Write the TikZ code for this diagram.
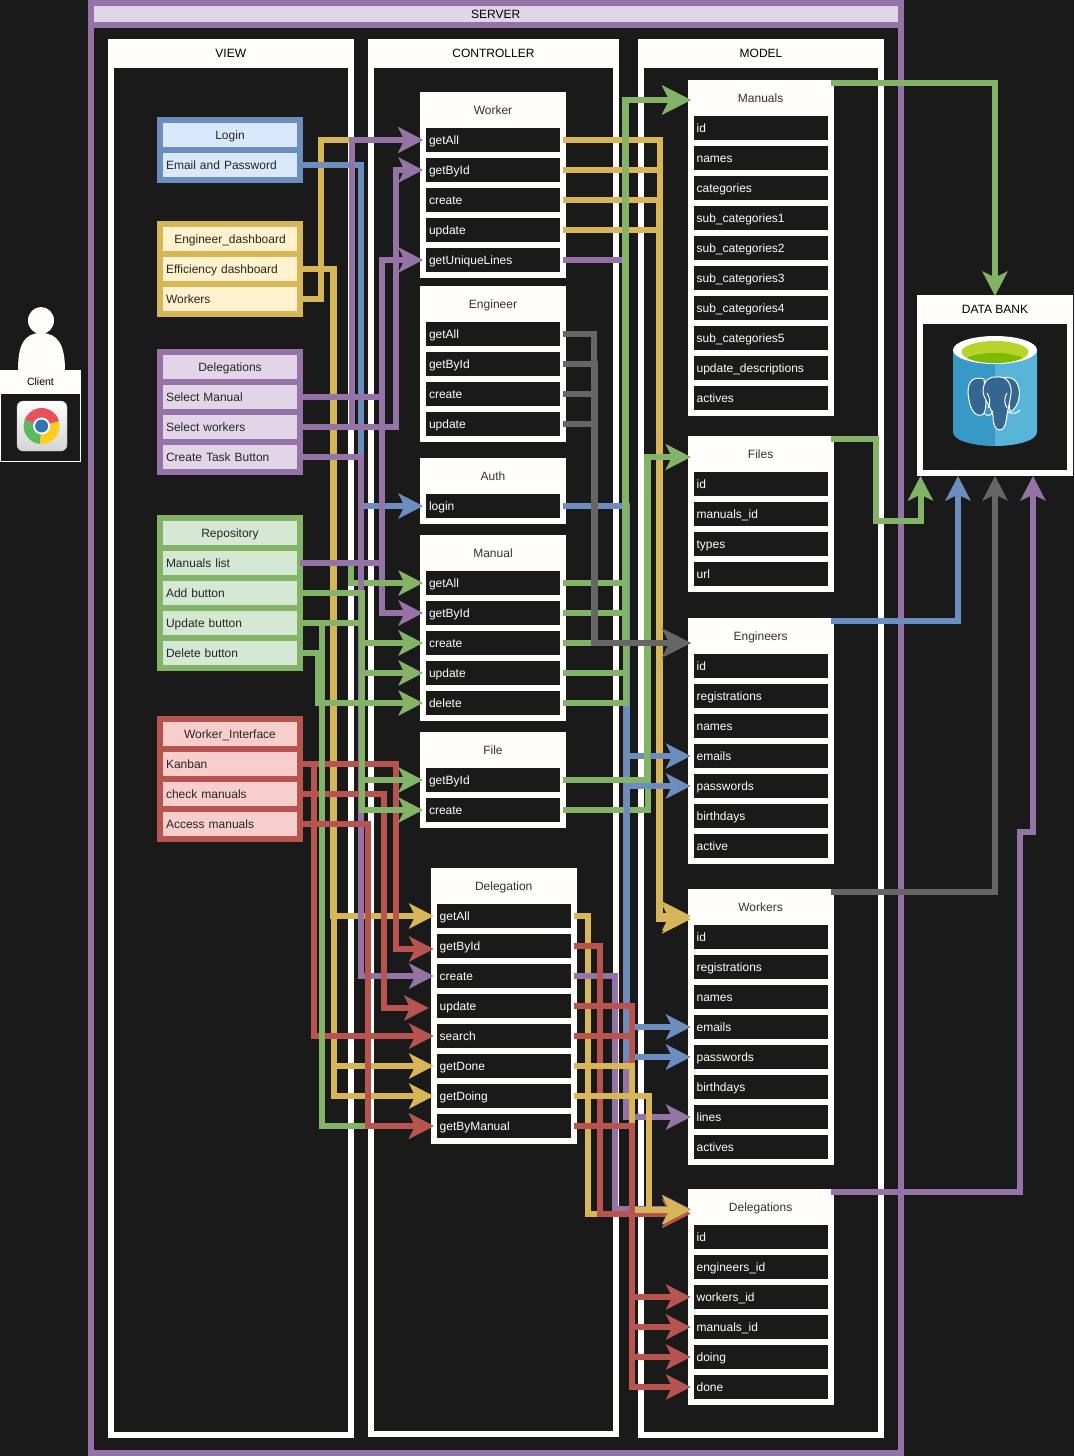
\documentclass[tikz,border=0pt]{standalone}
\usepackage{fontspec}
\setmainfont{Liberation Sans}
\usetikzlibrary{arrows.meta}
\definecolor{bgdark}{HTML}{1A1A1A}
\definecolor{paper}{HTML}{FFFEFA}
\definecolor{purpleline}{HTML}{9673A6}
\definecolor{purplefill}{HTML}{E1D5E7}
\definecolor{blueline}{HTML}{6C8EBF}
\definecolor{bluefill}{HTML}{DAE8FC}
\definecolor{goldline}{HTML}{D6B656}
\definecolor{goldfill}{HTML}{FFF2CC}
\definecolor{greenline}{HTML}{82B366}
\definecolor{greenfill}{HTML}{D5E8D4}
\definecolor{redline}{HTML}{B85450}
\definecolor{redfill}{HTML}{F8CECC}
\definecolor{greyline}{HTML}{666666}
\definecolor{dbleft}{HTML}{3999C6}
\definecolor{dbright}{HTML}{59B4D9}
\definecolor{dbtop}{HTML}{B7D42A}
\definecolor{dbdeep}{HTML}{7FBA00}
\definecolor{elephant}{HTML}{336791}
\definecolor{chromered}{HTML}{E8505B}
\definecolor{chromegreen}{HTML}{5CB85C}
\definecolor{chromeyellow}{HTML}{FFCD1C}
\definecolor{chromeblue}{HTML}{2F75B5}
\tikzset{
	cell/.style = {line width = 6pt, outer sep = 0pt, inner ysep = 0pt, minimum width = 140pt, minimum height = 30pt,
		font = \fontsize{12}{14}\selectfont, text height = 10.5pt, text depth = 2.5pt},
	headcell/.style = {cell, align = center},
	rowcell/.style = {cell, inner xsep = 6pt, text width = 128pt, align = left},
	paperset/.style = {draw = paper, fill = paper, text = black!80},
	darkset/.style = {draw = paper, fill = bgdark, text = paper},
	blueset/.style = {draw = blueline, fill = bluefill, text = black!85},
	goldset/.style = {draw = goldline, fill = goldfill, text = black!85},
	purpleset/.style = {draw = purpleline, fill = purplefill, text = black!85},
	greenset/.style = {draw = greenline, fill = greenfill, text = black!85},
	redset/.style = {draw = redline, fill = redfill, text = black!85},
	lanehead/.style = {cell, draw = paper, fill = paper, text = black},
	lanebody/.style = {line width = 6pt, outer sep = 0pt, draw = paper, fill = bgdark},
	wire/.style = {line width = 6pt, draw = #1, -{Stealth[length = 24.5pt, width = 25pt, inset = 6pt]}},
	widewire/.style = {line width = 6pt, draw = #1, -{Stealth[length = 28pt, width = 28pt, inset = 7pt]}}
}
% title cell, then one 30 high cell per row: [title colours], prefix, title, centre x, first row y, colours, rows
\newcommand{\cellstack}[7][]{
	\node[headcell, #6, #1] (#2) at (#4,#5-30) {#3};
	\foreach \lbl [count = \i] in {#7} {
		\node[rowcell, #6] (#2\i) at (#4,#5-30+\i*30) {\lbl};
	}
}
\begin{document}
\begin{tikzpicture}[x = 1pt, y = -1pt]
	\useasboundingbox[fill = bgdark] (0,0) rectangle (1074,1456);

	% server and the three lanes
	\node[lanebody, draw = purpleline, minimum width = 810.5pt, minimum height = 1428pt] (serverBody) at (495.75,739) {};
	\node[cell, draw = purpleline, fill = purplefill, text = black, minimum width = 810.5pt, minimum height = 22pt] (serverHead) at (495.75,14) {SERVER};
	\node[lanebody, minimum width = 240.5pt, minimum height = 1370pt] (viewBody) at (230.75,749.5) {};
	\node[lanehead, minimum width = 240.5pt, minimum height = 22.5pt] (viewHead) at (230.75,53.25) {VIEW};
	\node[lanebody, minimum width = 245pt, minimum height = 1369.5pt] (ctrlBody) at (493.5,749.25) {};
	\node[lanehead, minimum width = 245pt, minimum height = 22.5pt] (ctrlHead) at (493.5,53.25) {CONTROLLER};
	\node[lanebody, minimum width = 240pt, minimum height = 1370.5pt] (modelBody) at (761,749.75) {};
	\node[lanehead, minimum width = 240pt, minimum height = 22.5pt] (modelHead) at (761,53.25) {MODEL};

	% client
	\fill[paper] (41,320.5) ellipse (13 and 13.5);
	\fill[paper] (18,370) .. controls (18,345) and (24,333) .. (41,333) .. controls (58,333) and (65,345) .. (65,370) -- cycle;
	\node[draw = paper, line width = 1pt, fill = bgdark, outer sep = 0pt, minimum width = 79.5pt, minimum height = 68pt] (clientBody) at (40.25,427) {};
	\node[fill = paper, text = black, outer sep = 0pt, minimum width = 81pt, minimum height = 23pt, font = \fontsize{10.5}{12}\selectfont] (clientHead) at (40.5,381.5) {Client};
	\draw[rounded corners = 6pt, draw = black!25, top color = white, bottom color = black!17] (17,401) rectangle (67,451);
	\fill[chromered] (41.6,426) -- ++(-15:18) arc[start angle = -15, end angle = -160, radius = 18] -- cycle;
	\fill[chromegreen] (41.6,426) -- ++(-160:18) arc[start angle = -160, end angle = -265, radius = 18] -- cycle;
	\fill[chromeyellow] (41.6,426) -- ++(95:18) arc[start angle = 95, end angle = -15, radius = 18] -- cycle;
	\fill[white] (41.6,426) circle (8.5);
	\fill[chromeblue] (41.6,426) circle (6.5);

	% data bank
	\node[lanebody, minimum width = 150pt, minimum height = 152pt] (bankBody) at (995,397) {};
	\node[lanehead, minimum width = 150pt, minimum height = 23pt] (bankHead) at (995,309.5) {DATA BANK};
	\fill[dbleft] (953,350) -- (953,432) .. controls (953,441) and (975,446) .. (995,446) -- (995,350) -- cycle;
	\fill[dbright] (1037,350) -- (1037,432) .. controls (1037,441) and (1015,446) .. (995,446) -- (995,350) -- cycle;
	\fill[white] (995,350) ellipse (42 and 14);
	\fill[dbtop] (995,352) ellipse (33.5 and 11);
	\begin{scope}
		\clip (995,352) ellipse (33.5 and 11);
		\fill[dbdeep] (995,361) ellipse (30 and 8);
	\end{scope}
	\begin{scope}[draw = white, line width = 1pt, fill = elephant]
		\filldraw (984,379) .. controls (970,375) and (966,385) .. (969,400) .. controls (971,412) and (977,417) .. (982,415) .. controls (985,414) and (986,408) .. (986,400) -- cycle;
		\filldraw (1003,378) .. controls (1015,375) and (1021,385) .. (1019,398) .. controls (1018,405) and (1014,410) .. (1010,412) -- (1008,390) -- cycle;
		\filldraw (983,392) .. controls (983,380) and (990,376) .. (997,377) .. controls (1005,376) and (1012,382) .. (1011,393) .. controls (1010,402) and (1008,408) .. (1007,415) .. controls (1006,424) and (1004,430) .. (1000,430) .. controls (995,430) and (993,424) .. (993,416) .. controls (992,408) and (985,402) .. (983,392) -- cycle;
		\draw (984,413) .. controls (987,417) and (991,416) .. (993,411);
		\draw (1008,412) .. controls (1012,414) and (1017,414) .. (1020,410);
		\draw (987,393) .. controls (990,398) and (991,403) .. (988,408);
		\draw (1007,393) .. controls (1004,398) and (1004,403) .. (1007,408);
	\end{scope}

	% view tables
	\cellstack{login}{Login}{230}{165}{blueset}{Email and Password}
	\cellstack{dash}{Engineer\_dashboard}{230}{269}{goldset}{Efficiency dashboard, Workers}
	\cellstack{deleg}{Delegations}{230}{397}{purpleset}{Select Manual, Select workers, Create Task Button}
	\cellstack{repo}{Repository}{230}{563}{greenset}{Manuals list, Add button, Update button, Delete button}
	\cellstack{iface}{Worker\_Interface}{230}{764}{redset}{Kanban, check manuals, Access manuals}

	% controller tables
	\cellstack[paperset]{cWorker}{Worker}{493}{140}{darkset}{getAll, getById, create, update, getUniqueLines}
	\cellstack[paperset]{cEngineer}{Engineer}{493}{334}{darkset}{getAll, getById, create, update}
	\cellstack[paperset]{cAuth}{Auth}{493}{506}{darkset}{login}
	\cellstack[paperset]{cManual}{Manual}{493}{583}{darkset}{getAll, getById, create, update, delete}
	\cellstack[paperset]{cFile}{File}{493}{780}{darkset}{getById, create}
	\cellstack[paperset]{cDeleg}{Delegation}{503.7}{916}{darkset}{getAll, getById, create, update, search, getDone, getDoing, getByManual}

	% model tables
	\cellstack[paperset]{mManuals}{Manuals}{760.6}{128}{darkset}{id, names, categories, sub\_categories1, sub\_categories2, sub\_categories3, sub\_categories4, sub\_categories5, update\_descriptions, actives}
	\cellstack[paperset]{mFiles}{Files}{760.6}{484}{darkset}{id, manuals\_id, types, url}
	\cellstack[paperset]{mEngineers}{Engineers}{760.6}{666}{darkset}{id, registrations, names, emails, passwords, birthdays, active}
	\cellstack[paperset]{mWorkers}{Workers}{760.6}{937}{darkset}{id, registrations, names, emails, passwords, birthdays, lines, actives}
	\cellstack[paperset]{mDeleg}{Delegations}{760.6}{1237}{darkset}{id, engineers\_id, workers\_id, manuals\_id, doing, done}

	% view to controller
	\draw[wire = goldline] (dash2.east) -- ++(20.5,0) |- (cWorker1.west);
	\draw[wire = goldline] (dash1.east) -- ++(33,0) |- (cDeleg1.west);
	\draw[wire = goldline] (dash1.east) -- ++(34,0) |- (cDeleg6.west);
	\draw[wire = goldline] (dash1.east) -- ++(34,0) |- (cDeleg7.west);
	\draw[wire = blueline] (login1.east) -- ++(61,0) |- (cAuth1.west);
	\draw[wire = purpleline] (deleg1.east) -- ++(82,0) |- (cManual2.west);
	\draw[wire = greenline] (repo1.east) -- ++(51,0) |- (cManual1.west);
	\draw[wire = purpleline] (repo1.east) -- ++(82,0) |- (cWorker5.west);
	\draw[wire = purpleline] (deleg2.east) -- ++(52,0) |- (cWorker1.west);
	\draw[wire = purpleline] (deleg2.east) -- ++(96,0) |- (cWorker2.west);
	\draw[wire = purpleline] (deleg3.east) -- ++(61,0) |- (cDeleg3.west);
	\draw[wire = redline] (iface1.east) -- ++(96,0) |- ([yshift = -3pt]cDeleg2.west);
	\draw[wire = redline] (iface2.east) -- ++(83.5,0) |- ([xshift = -5pt, yshift = -2pt]cDeleg4.west);
	\draw[wire = redline] (iface1.east) -- ++(13.5,0) |- (cDeleg5.west);
	\draw[wire = greenline] (repo3.east) -- ++(21.5,0) |- (cDeleg8.west);
	\draw[wire = redline] (iface3.east) -- ++(67.5,0) |- (cDeleg8.west);
	\draw[wire = greenline] (repo2.east) -- ++(61.5,0) |- (cManual3.west);
	\draw[wire = greenline] (repo3.east) -- ++(61.5,0) |- (cManual4.west);
	\draw[wire = greenline] (repo4.east) -- ++(18,0) |- (cManual5.west);
	\draw[wire = greenline] (repo2.east) -- ++(61.5,0) |- (cFile1.west);
	\draw[wire = greenline] (repo3.east) -- ++(61.5,0) |- (cFile2.west);

	% controller to model
	\draw[widewire = goldline] (cWorker1.east) -- ++(97,0) |- ([yshift = -9pt]mWorkers.west);
	\draw[widewire = goldline] (cWorker2.east) -- ++(97,0) |- ([yshift = -9pt]mWorkers.west);
	\draw[widewire = goldline] (cWorker3.east) -- ++(95.5,0) |- ([yshift = -12pt]mWorkers.west);
	\draw[widewire = goldline] (cWorker4.east) -- ++(95.5,0) |- ([yshift = -12pt]mWorkers.west);
	\draw[wire = purpleline] (cWorker5.east) -- ++(62.5,0) |- (mWorkers7.west);
	\draw[wire = greenline] (cFile2.east) -- ++(84.5,0) |- ([yshift = -3pt]mFiles.west);
	\foreach \nm in {mEngineers4, mEngineers5, mWorkers4, mWorkers5}
		\draw[wire = blueline] (cAuth1.east) -- ++(64,0) |- (\nm.west);
	\draw[widewire = greenline] (cManual1.east) -- ++(61.5,0) |- ([yshift = -2pt]mManuals.west);
	\draw[widewire = greenline] (cManual2.east) -- ++(61.5,0) |- ([yshift = -2pt]mManuals.west);
	\draw[widewire = greenline] (cManual3.east) -- ++(62,0) |- ([yshift = -2pt]mManuals.west);
	\draw[widewire = greenline] (cManual4.east) -- ++(63,0) |- ([yshift = -2pt]mManuals.west);
	\draw[widewire = greenline] (cManual5.east) -- ++(63,0) |- ([yshift = -2pt]mManuals.west);
	\draw[wire = greenline] (cFile1.east) -- ++(84,0) |- ([yshift = -3pt]mFiles.west);
	\draw[widewire = greyline] (cEngineer1.east) -- ++(31,0) |- ([yshift = -7pt]mEngineers.west);
	\draw[widewire = greyline] (cEngineer2.east) -- ++(32,0) |- ([yshift = -7pt]mEngineers.west);
	\draw[widewire = greyline] (cEngineer3.east) -- ++(31,0) |- ([yshift = -7pt]mEngineers.west);
	\draw[widewire = greyline] (cEngineer4.east) -- ++(32,0) |- ([yshift = -7pt]mEngineers.west);

	\draw[widewire = goldline] (cDeleg1.east) -- ++(14.3,0) |- ([yshift = -6.5pt]mDeleg.west);
	\draw[widewire = purpleline] (cDeleg3.east) -- ++(41.3,0) |- ([yshift = -2pt]mDeleg.west);
	\draw[widewire = redline] (cDeleg2.east) -- ++(26.3,0) |- ([yshift = -6.5pt]mDeleg.west);
	\draw[wire = redline] (cDeleg4.east) -- ++(58.3,0) |- (mDeleg3.west);
	\draw[wire = redline] (cDeleg5.east) -- ++(58.3,0) |- (mDeleg4.west);
	\draw[widewire = goldline] (cDeleg6.east) -- ++(58.3,0) |- ([yshift = -3pt]mDeleg.west);
	\draw[widewire = goldline] (cDeleg7.east) -- ++(75.3,0) |- ([yshift = -3pt]mDeleg.west);
	\draw[wire = redline] (cDeleg8.east) -- ++(58.3,0) |- (mDeleg5.west);
	\draw[wire = redline] (cDeleg8.east) -- ++(58.3,0) |- (mDeleg6.west);

	% model to data bank
	\draw[wire = greenline] (mManuals.north east) -| ([yshift = 2pt]bankHead.north);
	\draw[wire = greenline] (mFiles.north east) -- ++(45,0) -- ++(0,82) -| ([xshift = -74.5pt, yshift = -3pt]bankBody.south);
	\draw[wire = blueline] (mEngineers.north east) -| ([xshift = -37pt, yshift = -3pt]bankBody.south);
	\draw[wire = greyline] (mWorkers.north east) -| ([yshift = -3pt]bankBody.south);
	\draw[wire = purpleline] (mDeleg.north east) -- ++(189.4,0) -- ++(0,-360) -| ([xshift = 38pt, yshift = -3pt]bankBody.south);
\end{tikzpicture}
\end{document}
